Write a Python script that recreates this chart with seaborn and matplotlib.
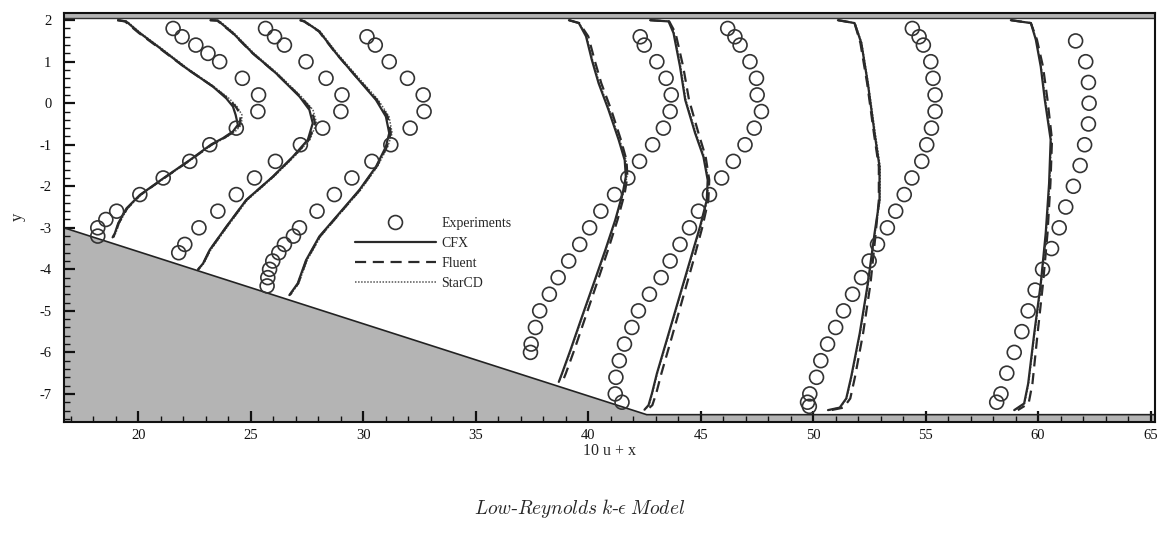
import numpy as np
import pandas as pd
import matplotlib
matplotlib.use("Agg")
import matplotlib.pyplot as plt
from matplotlib.lines import Line2D
from matplotlib.ticker import MultipleLocator
import seaborn as sns

# ---- values ----
# CFD profiles: one y list per station, one x list (10u + x) per code
y1 = [2.0, 1.97, 1.69, 1.33, 0.84, 0.40, 0.12, -0.08, -0.28, -0.52, -0.68, -0.84, -0.99, -1.37, -1.81, -2.21, -2.53, -2.89, -3.13, -3.23]
cfx1 = [19.10, 19.45, 20.06, 20.95, 22.13, 23.31, 23.90, 24.20, 24.32, 24.42, 24.20, 23.76, 23.24, 22.28, 21.10, 20.06, 19.47, 19.10, 18.95, 18.85]
flu1 = [19.05, 19.40, 20.02, 20.92, 22.12, 23.32, 23.95, 24.32, 24.55, 24.50, 24.25, 23.80, 23.28, 22.30, 21.12, 20.08, 19.50, 19.12, 18.97, 18.87]
star1 = [19.15, 19.50, 20.10, 21.00, 22.18, 23.36, 24.02, 24.38, 24.60, 24.58, 24.30, 23.84, 23.30, 22.32, 21.14, 20.10, 19.52, 19.14, 18.99, 18.89]

y2 = [2.0, 1.99, 1.69, 1.20, 0.72, 0.16, -0.16, -0.48, -0.88, -1.29, -1.77, -2.33, -2.97, -3.53, -3.86, -4.0]
cfx2 = [23.20, 23.53, 24.20, 25.09, 26.12, 27.16, 27.60, 27.75, 27.53, 26.86, 25.97, 24.79, 23.91, 23.17, 22.87, 22.65]
flu2 = [23.18, 23.50, 24.18, 25.08, 26.12, 27.20, 27.70, 27.85, 27.58, 26.88, 25.98, 24.80, 23.92, 23.18, 22.88, 22.66]
star2 = [23.24, 23.58, 24.25, 25.14, 26.18, 27.24, 27.76, 27.92, 27.62, 26.92, 26.02, 24.84, 23.96, 23.22, 22.90, 22.68]

y3 = [2.0, 1.97, 1.73, 1.20, 0.64, 0.08, -0.32, -0.72, -1.05, -1.53, -2.09, -2.65, -3.21, -3.78, -4.34, -4.62]
cfx3 = [27.20, 27.38, 28.04, 28.79, 29.67, 30.56, 31.00, 31.15, 31.00, 30.56, 29.82, 28.93, 28.04, 27.45, 27.08, 26.71]
flu3 = [27.18, 27.36, 28.02, 28.78, 29.68, 30.60, 31.08, 31.22, 31.04, 30.58, 29.84, 28.95, 28.06, 27.47, 27.10, 26.73]
star3 = [27.24, 27.42, 28.08, 28.84, 29.74, 30.66, 31.14, 31.28, 31.08, 30.62, 29.88, 28.98, 28.10, 27.50, 27.12, 26.75]

y4 = [2.0, 1.93, 1.61, 1.04, 0.48, -0.16, -0.88, -1.37, -1.77, -2.17, -2.81, -3.53, -4.34, -5.14, -5.94, -6.51, -6.71]
cfx4 = [39.14, 39.58, 39.90, 40.16, 40.46, 40.90, 41.35, 41.62, 41.67, 41.53, 41.20, 40.76, 40.24, 39.72, 39.21, 38.83, 38.69]
flu4 = [39.14, 39.60, 40.00, 40.28, 40.58, 41.02, 41.45, 41.70, 41.74, 41.62, 41.30, 40.88, 40.38, 39.88, 39.38, 39.00, 38.85]
star4 = [39.16, 39.60, 39.93, 40.19, 40.50, 40.94, 41.40, 41.68, 41.72, 41.56, 41.22, 40.78, 40.26, 39.74, 39.23, 38.85, 38.71]

y5 = [2.0, 1.97, 1.69, 0.88, 0.08, -0.72, -1.29, -1.85, -2.33, -2.97, -3.78, -4.74, -5.70, -6.51, -6.99, -7.27, -7.38]
cfx5 = [42.75, 43.57, 43.79, 44.08, 44.31, 44.75, 45.12, 45.31, 45.27, 44.97, 44.53, 44.01, 43.49, 43.05, 42.83, 42.68, 42.50]
flu5 = [42.75, 43.60, 43.88, 44.22, 44.48, 44.90, 45.22, 45.38, 45.34, 45.08, 44.68, 44.18, 43.68, 43.25, 43.02, 42.85, 42.62]
star5 = [42.78, 43.60, 43.82, 44.11, 44.34, 44.79, 45.16, 45.35, 45.30, 45.00, 44.56, 44.03, 43.51, 43.07, 42.85, 42.70, 42.52]

y6 = [2.0, 1.93, 1.45, 0.48, -0.72, -1.53, -2.33, -3.13, -4.34, -5.54, -6.59, -7.11, -7.33, -7.39]
cfx6 = [51.10, 51.84, 52.14, 52.43, 52.73, 52.95, 52.95, 52.73, 52.43, 52.07, 51.69, 51.47, 51.18, 50.66]
flu6 = [51.10, 51.84, 52.10, 52.40, 52.70, 52.92, 52.92, 52.78, 52.55, 52.22, 51.86, 51.65, 51.35, 50.80]
star6 = [51.12, 51.86, 52.16, 52.45, 52.76, 52.98, 52.97, 52.75, 52.45, 52.09, 51.71, 51.49, 51.20, 50.68]

y7 = [2.0, 1.93, 1.53, 0.88, 0.08, -0.88, -1.93, -3.13, -4.34, -5.54, -6.75, -7.23, -7.39]
cfx7 = [58.79, 59.68, 59.90, 60.12, 60.30, 60.56, 60.49, 60.34, 60.12, 59.83, 59.56, 59.38, 58.94]
flu7 = [58.79, 59.68, 59.95, 60.22, 60.42, 60.62, 60.55, 60.42, 60.22, 59.98, 59.75, 59.58, 59.10]
star7 = [58.81, 59.70, 59.92, 60.14, 60.33, 60.59, 60.52, 60.36, 60.14, 59.85, 59.58, 59.40, 58.96]

# experiments
ey1 = [1.8, 1.6, 1.4, 1.2, 1.0, 0.6, 0.2, -0.2, -0.6, -1.0, -1.4, -1.8, -2.2, -2.6, -2.8, -3.0, -3.2]
ex1 = [21.54, 21.94, 22.55, 23.09, 23.61, 24.62, 25.34, 25.31, 24.35, 23.17, 22.28, 21.10, 20.06, 19.03, 18.55, 18.19, 18.19]

ey2 = [1.8, 1.6, 1.4, 1.0, 0.6, 0.2, -0.2, -0.6, -1.0, -1.4, -1.8, -2.2, -2.6, -3.0, -3.4, -3.6]
ex2 = [25.65, 26.05, 26.49, 27.45, 28.34, 29.05, 29.00, 28.19, 27.20, 26.09, 25.16, 24.35, 23.53, 22.69, 22.06, 21.79]

ey3 = [1.6, 1.4, 1.0, 0.6, 0.2, -0.2, -0.6, -1.0, -1.4, -1.8, -2.2, -2.6, -3.0, -3.2, -3.4, -3.6, -3.8, -4.0, -4.2, -4.4]
ex3 = [30.16, 30.53, 31.15, 31.96, 32.66, 32.70, 32.08, 31.22, 30.38, 29.49, 28.71, 27.94, 27.16, 26.89, 26.49, 26.24, 25.97, 25.83, 25.75, 25.72]

ey4 = [1.6, 1.4, 1.0, 0.6, 0.2, -0.2, -0.6, -1.0, -1.4, -1.8, -2.2, -2.6, -3.0, -3.4, -3.8, -4.2, -4.6, -5.0, -5.4, -5.8, -6.0]
ex4 = [42.31, 42.49, 43.05, 43.46, 43.69, 43.64, 43.34, 42.86, 42.28, 41.76, 41.17, 40.56, 40.06, 39.62, 39.13, 38.66, 38.27, 37.84, 37.65, 37.46, 37.43]

ey5 = [1.8, 1.6, 1.4, 1.0, 0.6, 0.2, -0.2, -0.6, -1.0, -1.4, -1.8, -2.2, -2.6, -3.0, -3.4, -3.8, -4.2, -4.6, -5.0, -5.4, -5.8, -6.2, -6.6, -7.0, -7.2]
ex5 = [46.20, 46.52, 46.75, 47.19, 47.48, 47.51, 47.70, 47.38, 46.97, 46.45, 45.93, 45.39, 44.90, 44.50, 44.08, 43.64, 43.24, 42.72, 42.23, 41.94, 41.61, 41.38, 41.23, 41.20, 41.50]

ey6 = [1.8, 1.6, 1.4, 1.0, 0.6, 0.2, -0.2, -0.6, -1.0, -1.4, -1.8, -2.2, -2.6, -3.0, -3.4, -3.8, -4.2, -4.6, -5.0, -5.4, -5.8, -6.2, -6.6, -7.0, -7.2, -7.3]
ex6 = [54.41, 54.71, 54.90, 55.23, 55.33, 55.42, 55.42, 55.26, 55.05, 54.83, 54.39, 54.05, 53.67, 53.30, 52.86, 52.49, 52.15, 51.75, 51.35, 51.00, 50.64, 50.34, 50.15, 49.85, 49.75, 49.83]

ey7 = [1.5, 1.0, 0.5, 0.0, -0.5, -1.0, -1.5, -2.0, -2.5, -3.0, -3.5, -4.0, -4.5, -5.0, -5.5, -6.0, -6.5, -7.0, -7.2]
ex7 = [61.67, 62.12, 62.24, 62.27, 62.24, 62.07, 61.87, 61.57, 61.23, 60.94, 60.60, 60.20, 59.87, 59.56, 59.28, 58.94, 58.61, 58.35, 58.16]

# channel geometry (ramp + lower wall, upper wall)
wall_x = [16.69, 42.6, 65.2]
wall_y = [-3.0, -7.5, -7.5]
top_wall = 2.05
x_lim = (16.69, 65.2)
y_lim = (-7.67, 2.18)

models = ["CFX", "Fluent", "StarCD"]

# ---- long tables for seaborn ----
profiles = [
    (y1, cfx1, flu1, star1), (y2, cfx2, flu2, star2), (y3, cfx3, flu3, star3),
    (y4, cfx4, flu4, star4), (y5, cfx5, flu5, star5), (y6, cfx6, flu6, star6),
    (y7, cfx7, flu7, star7),
]
rows = []
for k, (yy, *xs) in enumerate(profiles):
    for m, xx in zip(models, xs):
        rows += [{"station": k, "model": m, "x": a, "y": b} for a, b in zip(xx, yy)]
cfd = pd.DataFrame(rows)

exp_sets = [(ex1, ey1), (ex2, ey2), (ex3, ey3), (ex4, ey4), (ex5, ey5), (ex6, ey6), (ex7, ey7)]
exp = pd.DataFrame([{"station": k, "x": a, "y": b}
                    for k, (xx, yy) in enumerate(exp_sets) for a, b in zip(xx, yy)])

# ---- style ----
sns.set_theme(style="white")
plt.rcParams["font.family"] = ["Liberation Serif", "DejaVu Serif"]
plt.rcParams["mathtext.fontset"] = "cm"
plt.rcParams["axes.unicode_minus"] = False

fig = plt.figure(figsize=(11.6, 5.4), dpi=100)
ax = fig.add_axes([0.0552, 0.219, 0.9405, 0.7575])

gray = "#b4b4b4"
ax.fill_between(wall_x, wall_y, y_lim[0], color=gray, lw=0, zorder=0)
ax.plot(wall_x, wall_y, color="#222222", lw=1.2, zorder=1)
ax.axhspan(top_wall, y_lim[1], color=gray, lw=0, zorder=0)
ax.axhline(top_wall, color="#333333", lw=1.0, zorder=1)

line_style = {
    "StarCD": dict(color="#555555", lw=1.1, linestyle=(0, (1, 1))),
    "Fluent": dict(color="#2a2a2a", lw=1.6, linestyle=(0, (5, 3))),
    "CFX": dict(color="#2a2a2a", lw=1.6, linestyle="-"),
}
for m in ["StarCD", "Fluent", "CFX"]:
    sns.lineplot(data=cfd[cfd["model"] == m], x="x", y="y", units="station",
                 estimator=None, sort=False, ax=ax, **line_style[m])

sns.scatterplot(data=exp, x="x", y="y", ax=ax, marker="o", s=100, color="#333333",
                facecolor="none", edgecolor="#333333", linewidth=1.2, zorder=3)

ax.set_xlim(*x_lim)
ax.set_ylim(*y_lim)
ax.xaxis.set_major_locator(MultipleLocator(5))
ax.xaxis.set_minor_locator(MultipleLocator(1))
ax.yaxis.set_major_locator(MultipleLocator(1))
ax.yaxis.set_minor_locator(MultipleLocator(0.2))
ax.tick_params(which="both", direction="in", bottom=True, left=True, top=False, right=False,
               colors="#111111", labelsize=10.5)
ax.tick_params(which="major", length=8, width=1.6)
ax.tick_params(which="minor", length=4, width=1.0)
ax.tick_params(axis="x", pad=5)
ax.tick_params(axis="y", pad=9)
for s in ax.spines.values():
    s.set_color("#111111")
    s.set_linewidth(1.5)

ax.set_xlabel("10 u + x", fontsize=11.5, labelpad=1)
ax.set_ylabel("y", fontsize=12, labelpad=10)

handles = [
    Line2D([], [], marker="o", ls="none", mfc="none", mec="#333333", ms=10, mew=1.2),
    Line2D([], [], **line_style["CFX"]),
    Line2D([], [], **line_style["Fluent"]),
    Line2D([], [], **line_style["StarCD"]),
]
ax.legend(handles, ["Experiments"] + models, loc="upper left",
          bbox_to_anchor=(0.306, 0.598), bbox_transform=fig.transFigure,
          frameon=False, fontsize=10, handlelength=5.8, handletextpad=0.4,
          labelspacing=0.5, borderpad=0, borderaxespad=0)

fig.text(0.5, 1 - 508 / 540, r"$Low$-$Reynolds$ $k$-$\epsilon$ $Model$",
         ha="center", va="center", fontsize=14)

fig.savefig("out.png", dpi=100, facecolor="white")
